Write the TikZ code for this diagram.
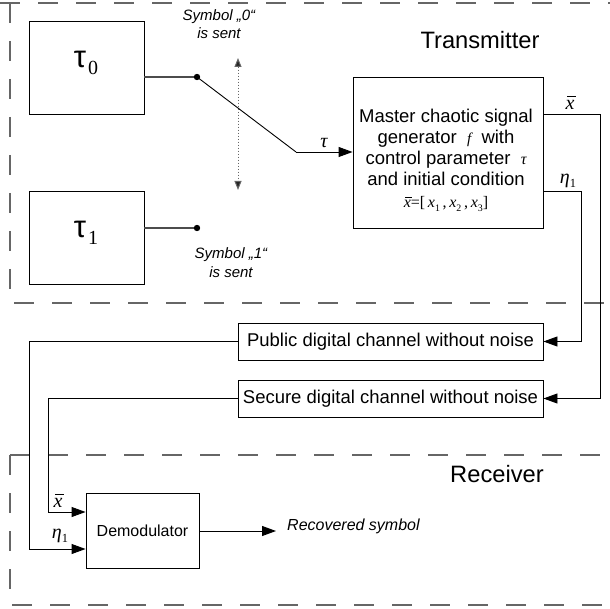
\documentclass[tikz,border=0pt]{standalone}
\usepackage{graphicx}
\usepackage{fontspec}
\setmainfont{Liberation Sans}
\newfontfamily\serf{Liberation Serif}
\newcommand{\ovx}{{\itshape\makebox[0pt][l]{\hspace{0.08em}\rule[0.62em]{0.42em}{0.05em}}x}}
\newcommand{\sbs}[1]{\raisebox{-0.22em}{\upshape\scalebox{0.62}{#1}}}
\usetikzlibrary{arrows.meta}
\begin{document}
\begin{tikzpicture}[x=1pt,y=-1pt,
  box/.style={draw, line width=0.9pt, inner sep=0pt},
  dbox/.style={draw=black!60, line width=1.1pt, dash pattern=on 20pt off 18pt},
  wire/.style={line width=0.9pt},
  gwire/.style={draw=black!70, line width=1.2pt},
  arr/.style={wire, -{Triangle[length=14pt,width=10pt]}},
  darr/.style={draw=black!60, line width=1pt, dotted, {Triangle[length=9pt,width=7pt,fill=black!85]}-{Triangle[length=9pt,width=7pt,fill=black!85]}},
  lbl/.style={inner sep=0pt},
  itl/.style={inner sep=0pt, align=center, font=\fontsize{15}{18.5}\selectfont\itshape},
  big/.style={inner sep=0pt, font=\fontsize{23.7}{26}\selectfont},
  ml/.style={inner sep=0pt, font=\serf\fontsize{20}{20}\selectfont\itshape}
]
\useasboundingbox (0,0) rectangle (610,609);
% dashed region boxes
\draw[dbox] (0,3) -- (610,3);
\draw[dbox] (10,3) -- (10,303) -- (610,303);
\draw[dbox] (10,455) -- (610,455);
\draw[dbox] (10,455) -- (10,605) -- (610,605);

% tau boxes
\node[box, minimum width=115pt, minimum height=93pt] (t0) at (86.5,67.5) {};
\node[box, minimum width=115pt, minimum height=93pt] (t1) at (86.5,237.5) {};
\node[lbl] (t0l) at (86,63) {\fontsize{31}{31}\selectfont τ\hspace{2pt}\raisebox{-7pt}{\serf\fontsize{20}{20}\selectfont 0}};
\node[lbl] (t1l) at (86,233) {\fontsize{31}{31}\selectfont τ\hspace{2pt}\raisebox{-7pt}{\serf\fontsize{20}{20}\selectfont 1}};

% switch
\coordinate (d0) at (197,77);
\coordinate (d1) at (197,228);
\coordinate (kink) at (296,152);
\draw[gwire] (t0.east |- d0) -- (d0);
\draw[gwire] (t1.east |- d1) -- (d1);
\fill (d0) circle (3.2pt);
\fill (d1) circle (3.2pt);

% master box
\node[box, minimum width=190pt, minimum height=151pt] (master) at (448,152.5) {};
\node[lbl, align=center, font=\fontsize{18.5}{21}\selectfont] (mtext) at (446,160.5)
 {Master chaotic signal\\
  generator \ {\serf\itshape\fontsize{15}{15}\selectfont f}\ \ with\\
  control parameter \ {\serf\itshape\fontsize{16}{16}\selectfont τ}\\
  and initial condition\\[1pt]
  {\serf\fontsize{16}{16}\selectfont\ovx{=}[\,\textit{x}\sbs{1}\,,\,\textit{x}\sbs{2}\,,\,\textit{x}\sbs{3}]}};

\draw[wire] (d0) -- (kink);
\draw[arr] (kink) -- (master.west |- kink);
\node[ml] (taul) at (324,143) {τ};

% dotted switch arrow
\coordinate (da1) at (238,58);
\coordinate (da2) at (238,190);
\draw[darr] (da1) -- (da2);

\node[itl] (s0) at (219,24) {Symbol „0“\\is sent};
\node[itl] (s1) at (231,262.5) {Symbol „1“\\is sent};
\node[big] (tx) at (480,40) {Transmitter};

% channels
\node[box, minimum width=305pt, minimum height=37pt, font=\fontsize{18.5}{21}\selectfont] (pub) at (390.5,341.5) {Public digital channel without noise};
\node[box, minimum width=305pt, minimum height=37pt, font=\fontsize{18.5}{21}\selectfont] (sec) at (390.5,398.5) {Secure digital channel without noise};

\coordinate (xo) at (600,114);
\coordinate (eo) at (581,191);
\draw[arr] (master.east |- xo) -- (xo) |- (sec.east);
\draw[arr] (master.east |- eo) -- (eo) |- (pub.east);
\node[ml] (xol) at (570,103) {\ovx};
\node[ml] (eol) at (568,181) {η\sbs{1}};

% receiver
\node[big] (rx) at (497,474) {Receiver};
\node[box, minimum width=113pt, minimum height=75pt, font=\fontsize{16}{18}\selectfont] (dem) at (142.5,530.5) {Demodulator};
\coordinate (pc) at (29,549);
\coordinate (sc) at (48,512);
\draw[arr] (pub.west) -| (pc) -- (dem.west |- pc);
\draw[arr] (sec.west) -| (sc) -- (dem.west |- sc);
\node[ml] (xdl) at (58,501) {\ovx};
\node[ml] (edl) at (60,536) {η\sbs{1}};

\coordinate (tip) at (276,531);
\draw[arr] (dem.east |- tip) -- (tip);
\node[lbl, anchor=west, font=\fontsize{16}{18}\selectfont\itshape] (rec) at (287,526) {Recovered symbol};
\end{tikzpicture}
\end{document}
